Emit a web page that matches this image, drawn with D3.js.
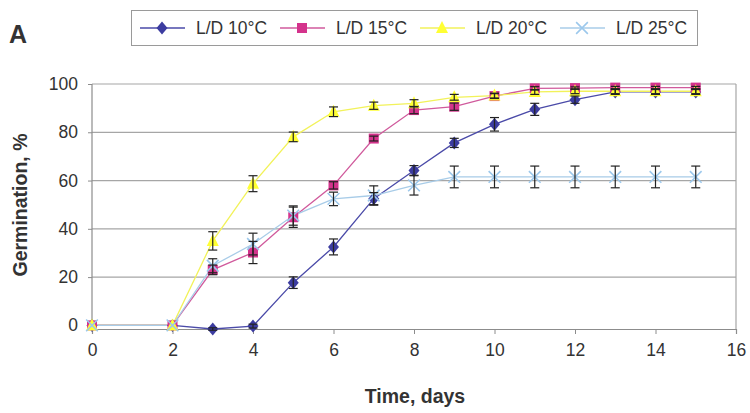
<!DOCTYPE html>
<html><head><meta charset="utf-8">
<script src="https://cdn.jsdelivr.net/npm/d3@7"></script>
<style>body{margin:0;background:#fff;} svg{display:block;font-family:"Liberation Sans",Arial,sans-serif;}</style>
</head><body>
<svg id="c" width="750" height="413"></svg>
<script>
const days = [0,2,3,4,5,6,7,8,9,10,11,12,13,14,15];
const seriesNames = ["L/D 10°C","L/D 15°C","L/D 20°C","L/D 25°C"];
const v10 = [0,0,-1.5,-0.3,17.7,32.5,52.5,64.2,75.6,83.3,89.5,93.5,96.7,96.7,96.7];
const e10 = [0,0,0.5,0.8,2.4,3.3,2.5,2,1.9,2.8,2.5,1.5,1,1,1];
const v15 = [0,0,23,30.2,44.8,58,77.4,89.2,90.6,95,98.2,98.3,98.5,98.5,98.5];
const e15 = [0,0,2,4.6,4.2,1.5,1,1.5,1.5,1,0.7,0.5,0.5,0.5,0.5];
const v20 = [0,0,35,58.7,78.1,88.5,91,92,94.5,95.2,96.7,97,97,97,97];
const e20 = [0,0,3.8,3.3,2,2,1.5,1.5,1.2,1,1,1,1,1,1];
const v25 = [0,0,24.7,33.7,45.5,52.4,53.8,58,61.5,61.5,61.5,61.5,61.5,61.5,61.5];
const e25 = [0,0,2.9,4.5,4,2.8,4,4,4.5,4.5,4.5,4.5,4.5,4.5,4.5];
const xTicks = [0,2,4,6,8,10,12,14,16];
const yTicks = [0,20,40,60,80,100];

const svg = d3.select("#c");
const x = d3.scaleLinear().domain([0,16]).range([92,736]);
const y = d3.scaleLinear().domain([-1.5,100]).range([329,84]);

const styles = [
  {line:"#4a4aa8", fill:"#3c3ca0", shape:"diamond", size:11},
  {line:"#d05a9c", fill:"#d4338c", shape:"square", size:10},
  {line:"#f2f25a", fill:"#ffff33", shape:"triangle", size:12},
  {line:"#a8cce8", fill:"#9cc8ec", shape:"x", size:13}
];
const vals = [v10,v15,v20,v25];
const errs = [e10,e15,e20,e25];

// grid
svg.append("g").selectAll("line").data(yTicks.slice(1)).join("line")
  .attr("x1",92).attr("x2",736).attr("y1",d=>y(d)).attr("y2",d=>y(d))
  .attr("stroke","#a6a6a6").attr("stroke-width",1.2);
// right border
svg.append("line").attr("x1",736).attr("x2",736).attr("y1",y(100)).attr("y2",329)
  .attr("stroke","#a6a6a6").attr("stroke-width",1.2);

// axes
const xAxis = d3.axisBottom(x).tickValues(xTicks).tickSize(5).tickPadding(10);
const gx = svg.append("g").attr("transform","translate(0,329)").call(xAxis);
gx.select(".domain").attr("stroke","#8c8c8c").attr("stroke-width",1.2);
gx.selectAll(".tick line").attr("stroke","#8c8c8c");
gx.selectAll("text").attr("font-size",17.5).attr("fill","#333");

const yAxis = d3.axisLeft(y).tickValues(yTicks).tickSize(4).tickPadding(10);
const gy = svg.append("g").attr("transform","translate(92,0)").call(yAxis);
gy.select(".domain").attr("stroke","#8c8c8c").attr("stroke-width",1.2).attr("d","M0,84V329");
gy.selectAll(".tick line").attr("stroke","#8c8c8c");
gy.selectAll("text").attr("font-size",17.5).attr("fill","#333");

function drawMarker(g, s, cx, cy){
  const h = s.size/2;
  if(s.shape==="diamond"){
    g.append("path").attr("d",`M${cx},${cy-h-1}L${cx+h},${cy}L${cx},${cy+h+1}L${cx-h},${cy}Z`).attr("fill",s.fill);
  } else if(s.shape==="square"){
    g.append("rect").attr("x",cx-h).attr("y",cy-h).attr("width",s.size).attr("height",s.size).attr("fill",s.fill);
  } else if(s.shape==="triangle"){
    g.append("path").attr("d",`M${cx},${cy-h-1}L${cx+h},${cy+h-1}L${cx-h},${cy+h-1}Z`).attr("fill",s.fill);
  } else {
    const k = h*0.9;
    g.append("path").attr("d",`M${cx-k},${cy-k}L${cx+k},${cy+k}M${cx-k},${cy+k}L${cx+k},${cy-k}`)
      .attr("stroke",s.fill).attr("stroke-width",1.6).attr("fill","none");
  }
}

const line = d3.line().x(d=>x(d[0])).y(d=>y(d[1]));
const plot = svg.append("g");
vals.forEach((v,i)=>{
  plot.append("path").datum(days.map((d,j)=>[d,v[j]])).attr("d",line)
    .attr("fill","none").attr("stroke",styles[i].line).attr("stroke-width",1.3);
});
vals.forEach((v,i)=>{
  const g = plot.append("g");
  days.forEach((d,j)=>drawMarker(g, styles[i], x(d), y(v[j])));
});
// error bars
vals.forEach((v,i)=>{
  const g = plot.append("g").attr("stroke","#222").attr("stroke-width",1.2);
  days.forEach((d,j)=>{
    const e = errs[i][j];
    if(e<=0) return;
    const cx = x(d), y1 = y(v[j]+e), y2 = y(v[j]-e);
    g.append("line").attr("x1",cx).attr("x2",cx).attr("y1",y1).attr("y2",y2);
    g.append("line").attr("x1",cx-4.5).attr("x2",cx+4.5).attr("y1",y1).attr("y2",y1);
    g.append("line").attr("x1",cx-4.5).attr("x2",cx+4.5).attr("y1",y2).attr("y2",y2);
  });
});

// axis titles
svg.append("text").attr("x",415).attr("y",403).attr("text-anchor","middle")
  .attr("font-size",19.5).attr("font-weight","bold").attr("fill","#333").text("Time, days");
svg.append("text").attr("transform","translate(27,205) rotate(-90)").attr("text-anchor","middle")
  .attr("font-size",19.5).attr("font-weight","bold").attr("fill","#333").text("Germination, %");

// panel letter
svg.append("text").attr("x",9).attr("y",43).attr("font-size",25).attr("font-weight","bold")
  .attr("fill","#333").text("A");

// legend
svg.append("rect").attr("x",131.5).attr("y",10.5).attr("width",566).attr("height",35)
  .attr("fill","#fff").attr("stroke","#9a9a9a");
const lx = [140,280,420,560];
seriesNames.forEach((n,i)=>{
  const g = svg.append("g");
  g.append("line").attr("x1",lx[i]).attr("x2",lx[i]+45).attr("y1",28).attr("y2",28)
    .attr("stroke",styles[i].line).attr("stroke-width",1.3);
  drawMarker(g, styles[i], lx[i]+22, 28);
  g.append("text").attr("x",lx[i]+56).attr("y",34).attr("font-size",17.5).attr("fill","#333").text(n);
});
</script>
</body></html>
